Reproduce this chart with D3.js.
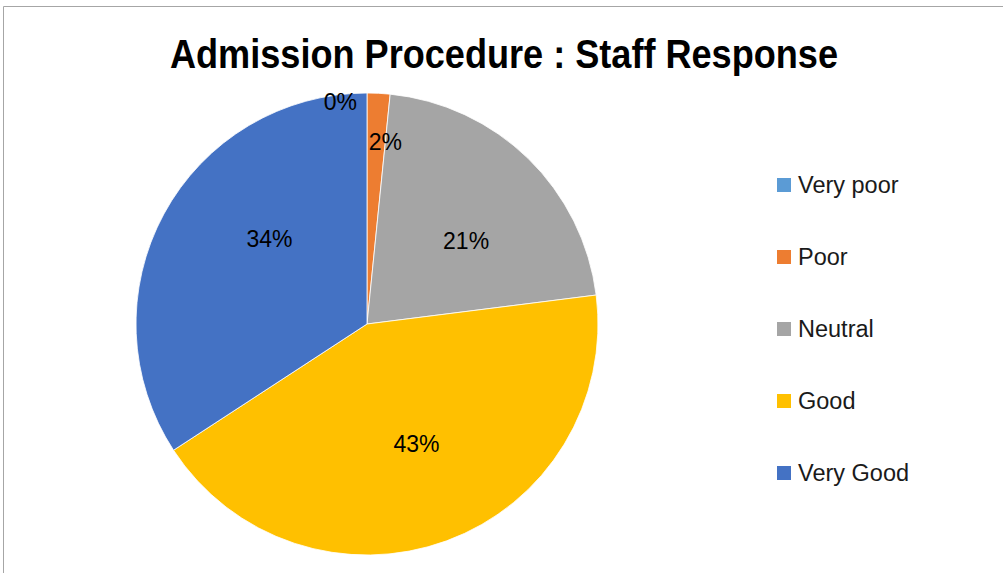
<!DOCTYPE html>
<html lang="en">
<head>
<meta charset="utf-8">
<title>Admission Procedure : Staff Response</title>
<script src="https://cdn.jsdelivr.net/npm/d3@7"></script>
<style>
  body { margin: 0; background: #fff; }
  text { font-family: "Liberation Sans", Arial, sans-serif; }
</style>
</head>
<body>
<script>
// data (share of responses, %)
var categories = ["Very poor", "Poor", "Neutral", "Good", "Very Good"];
var values = [0, 1.6, 21.4, 42.8, 34.2];
var labels = ["0%", "2%", "21%", "43%", "34%"];
var colors = ["#5B9BD5", "#ED7D31", "#A5A5A5", "#FFC000", "#4472C4"];

var width = 1003, height = 573;
var cx = 367, cy = 324, radius = 231;

var svg = d3.select("body").append("svg")
    .attr("width", width)
    .attr("height", height);

// chart frame
svg.append("path")
    .attr("d", "M3.5,573 L3.5,6.5 L1003,6.5")
    .attr("fill", "none")
    .attr("stroke", "#a6a6a6")
    .attr("stroke-width", 1);

svg.append("text")
    .attr("x", 504)
    .attr("y", 68)
    .attr("text-anchor", "middle")
    .attr("font-size", 41)
    .attr("font-weight", "bold")
    .attr("textLength", 668)
    .attr("lengthAdjust", "spacingAndGlyphs")
    .attr("fill", "#000")
    .text("Admission Procedure : Staff Response");

var pie = d3.pie().sort(null).value(function(d) { return d; });
var arcs = pie(values);

var arc = d3.arc().innerRadius(0).outerRadius(radius);

var g = svg.append("g").attr("transform", "translate(" + cx + "," + cy + ")");

g.selectAll("path.slice")
    .data(arcs)
    .enter().append("path")
    .attr("class", "slice")
    .attr("d", arc)
    .attr("fill", function(d, i) { return colors[i]; })
    .attr("stroke", "#fff")
    .attr("stroke-width", 0.8);

// label radius as a share of the radius; thin slices sit further out
function labelRadius(d) {
  var span = d.endAngle - d.startAngle;
  if (span === 0) return radius * 1.0;
  if (span < 0.2) return radius * 0.79;
  return radius * 0.56;
}

// small angle nudges mimicking excel's best-fit placement
var labelShift = [0, 0.05, 0.1, -0.04, 0.22];

g.selectAll("text.lbl")
    .data(arcs)
    .enter().append("text")
    .attr("class", "lbl")
    .each(function(d, i) {
      var a = (d.startAngle + d.endAngle) / 2 + labelShift[i];
      var r = labelRadius(d);
      var x = Math.sin(a) * r, y = -Math.cos(a) * r;
      var anchor = "middle";
      if (d.endAngle - d.startAngle === 0) { anchor = "end"; x -= 10; y += 9; }
      d3.select(this)
        .attr("x", x)
        .attr("y", y)
        .attr("dy", "0.35em")
        .attr("text-anchor", anchor);
    })
    .attr("font-size", 23)
    .attr("fill", "#000")
    .text(function(d, i) { return labels[i]; });

// legend
var legendY = d3.scalePoint().domain(categories).range([185, 473]);

var legend = svg.selectAll("g.legend")
    .data(categories)
    .enter().append("g")
    .attr("class", "legend")
    .attr("transform", function(d) { return "translate(777," + legendY(d) + ")"; });

legend.append("rect")
    .attr("x", 0)
    .attr("y", -7)
    .attr("width", 14)
    .attr("height", 14)
    .attr("fill", function(d, i) { return colors[i]; });

legend.append("text")
    .attr("x", 21)
    .attr("y", 0)
    .attr("dy", "0.35em")
    .attr("font-size", 23.5)
    .attr("fill", "#1a1a1a")
    .text(function(d) { return d; });
</script>
</body>
</html>
